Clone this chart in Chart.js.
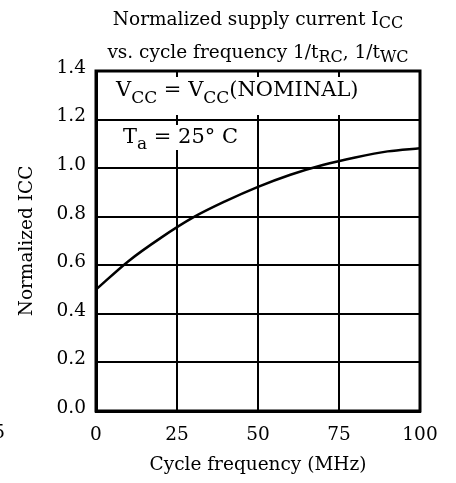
<!DOCTYPE html>
<html lang="en">
<head>
    <meta charset="UTF-8">
    <title>Normalized supply current vs. cycle frequency</title>
    <script src="https://cdn.jsdelivr.net/npm/chart.js"></script>
    <style>
        html, body { margin: 0; padding: 0; background: #fff; }
        #wrap { width: 456px; height: 483px; position: relative; }
    </style>
</head>
<body>
    <div id="wrap"><canvas id="icc"></canvas></div>

    <script>
        // valores
        const freqMHz = [0, 10, 20, 30, 40, 50, 60, 70, 80, 90, 100];
        const iccNorm = [0.50, 0.617, 0.713, 0.797, 0.864, 0.923, 0.973, 1.013, 1.044, 1.069, 1.082];
        const xTicks = [0, 25, 50, 75, 100];
        const yTicks = ['0.0', '0.2', '0.4', '0.6', '0.8', '1.0', '1.2', '1.4'];

        const FONT = 'DejaVu Serif';
        const SIZE = 18.5;

        // texto con subindices: [texto, esSub]
        function drawRich(ctx, parts, x, y, align, size, sub, drop) {
            let total = 0;
            parts.forEach(p => {
                ctx.font = (p[1] ? sub : size) + 'px "' + FONT + '"';
                total += ctx.measureText(p[0]).width;
            });
            let cx = align === 'center' ? x - total / 2 : x;
            ctx.textAlign = 'left';
            ctx.textBaseline = 'alphabetic';
            parts.forEach(p => {
                ctx.font = (p[1] ? sub : size) + 'px "' + FONT + '"';
                ctx.fillText(p[0], cx, p[1] ? y + drop : y);
                cx += ctx.measureText(p[0]).width;
            });
        }

        const textPlugin = {
            id: 'textPlugin',
            beforeDatasetsDraw(chart) {
                const { ctx, chartArea: a } = chart;
                ctx.save();
                // cajas blancas detras de las anotaciones
                ctx.fillStyle = '#fff';
                ctx.fillRect(a.left + 3, 77, a.right - a.left - 6, 38);
                ctx.fillRect(a.left + 3, 125, 150, 25);
                ctx.fillStyle = '#000';
                drawRich(ctx, [['V', 0], ['CC', 1], [' = V', 0], ['CC', 1], ['(NOMINAL)', 0]], 116, 96, 'left', 21, 17, 7);
                drawRich(ctx, [['T', 0], ['a', 1], [' = 25\u00b0 C', 0]], 123, 143, 'left', 21, 17, 6);
                ctx.restore();
            },
            afterDraw(chart) {
                const { ctx, chartArea: a } = chart;
                ctx.save();
                ctx.strokeStyle = '#000';
                ctx.lineWidth = 3;
                ctx.strokeRect(a.left, a.top, a.right - a.left, a.bottom - a.top);
                ctx.fillStyle = '#000';
                const mid = (a.left + a.right) / 2;
                drawRich(ctx, [['Normalized supply current I', 0], ['CC', 1]], mid, 25, 'center', SIZE, 16, 3);
                drawRich(ctx, [['vs. cycle frequency 1/t', 0], ['RC', 1], [', 1/t', 0], ['WC', 1]], mid, 58, 'center', SIZE, 16, 3.5);
                // resto de etiqueta cortada en el borde
                ctx.font = SIZE + 'px "' + FONT + '"';
                ctx.textAlign = 'right';
                ctx.textBaseline = 'middle';
                ctx.fillText('5', 5, 433);
                ctx.restore();
            }
        };

        new Chart(document.getElementById('icc'), {
            type: 'line',
            data: {
                datasets: [{
                    data: freqMHz.map((f, i) => ({ x: f, y: iccNorm[i] })),
                    borderColor: '#000',
                    borderWidth: 2.5,
                    pointRadius: 0,
                    tension: 0.4,
                    cubicInterpolationMode: 'monotone',
                    clip: false
                }]
            },
            options: {
                responsive: true,
                maintainAspectRatio: false,
                animation: false,
                layout: { padding: { top: 71, right: 36, bottom: 4, left: 0 } },
                plugins: { legend: { display: false }, tooltip: { enabled: false } },
                scales: {
                    x: {
                        type: 'linear',
                        min: 0, max: 100,
                        afterFit: s => { s.height = 68; },
                        afterBuildTicks: s => { s.ticks = xTicks.map(v => ({ value: v })); },
                        grid: { color: '#000', lineWidth: 2, drawTicks: false },
                        border: { color: '#000', width: 3 },
                        ticks: {
                            color: '#000', padding: 13, maxRotation: 0,
                            font: { family: FONT, size: SIZE },
                            callback: v => String(v)
                        },
                        title: {
                            display: true, text: 'Cycle frequency (MHz)', color: '#000',
                            font: { family: FONT, size: SIZE }, padding: { top: 0, bottom: 3 }
                        }
                    },
                    y: {
                        min: 0, max: 1.4,
                        afterFit: s => { s.width = 96; },
                        afterBuildTicks: s => { s.ticks = yTicks.map(t => ({ value: parseFloat(t) })); },
                        grid: { color: '#000', lineWidth: 2, drawTicks: false },
                        border: { color: '#000', width: 3 },
                        ticks: {
                            color: '#000', padding: 10, labelOffset: -3,
                            font: { family: FONT, size: SIZE },
                            callback: (v, i) => yTicks[i]
                        },
                        title: {
                            display: true, text: 'Normalized ICC', color: '#000',
                            font: { family: FONT, size: SIZE }, padding: { top: 16, bottom: 0 }
                        }
                    }
                }
            },
            plugins: [textPlugin]
        });
    </script>
</body>
</html>
